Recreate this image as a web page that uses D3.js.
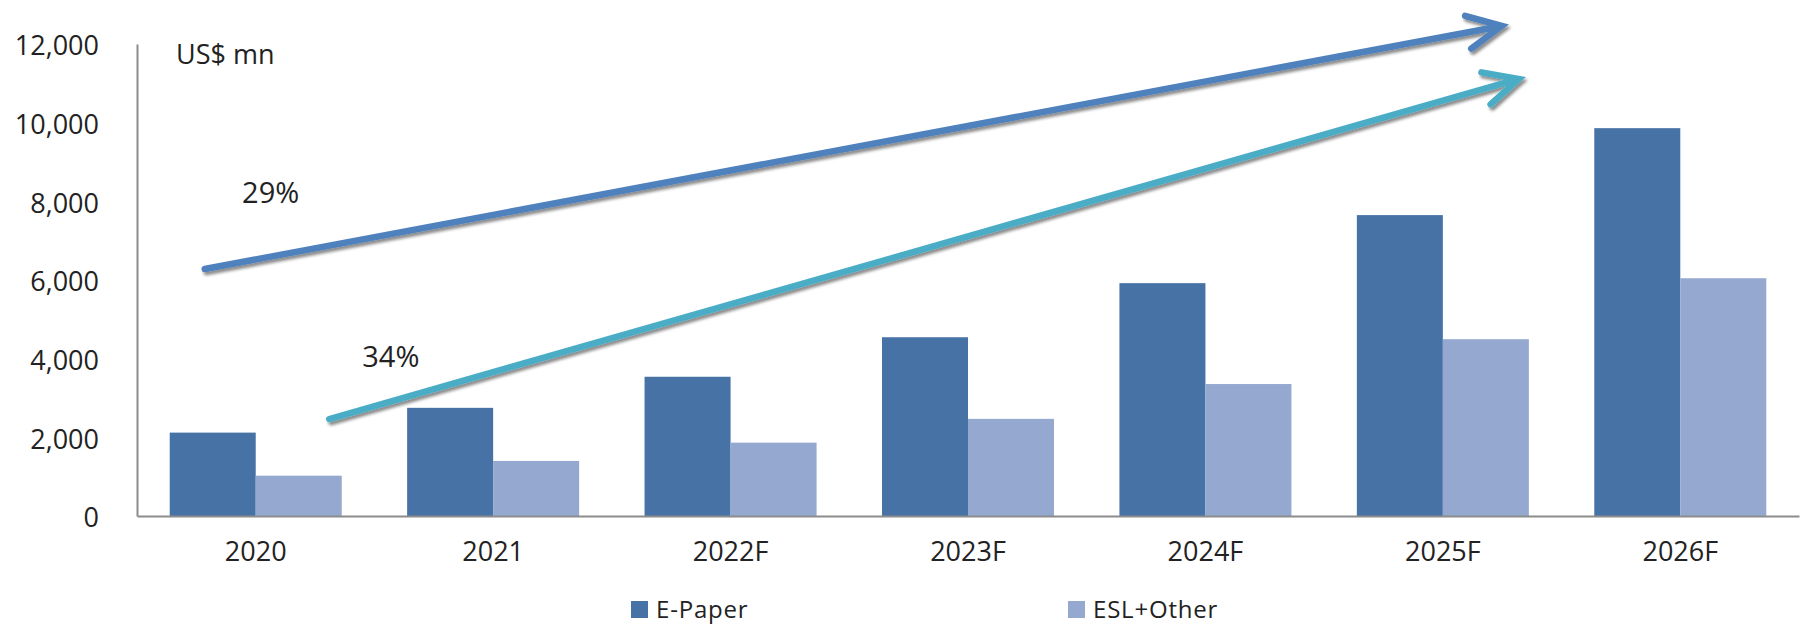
<!DOCTYPE html>
<html>
<head>
<meta charset="utf-8">
<script src="https://cdn.jsdelivr.net/npm/d3@7"></script>
<style>
  html, body { margin: 0; padding: 0; background: #fff; }
  svg { display: block; font-family: "Open Sans", "Noto Sans", sans-serif; }
</style>
</head>
<body>
<svg id="chart" width="1808" height="624"></svg>
<script>
// Market size by year, US$ mn
const categories = ["2020", "2021", "2022F", "2023F", "2024F", "2025F", "2026F"];
const ePaper     = [2120, 2750, 3540, 4545, 5920, 7650, 9860];
const eslOther   = [1025, 1400, 1865, 2470, 3355, 4495, 6045];
const seriesNames = ["E-Paper", "ESL+Other"];
const yTicks = [0, 2000, 4000, 6000, 8000, 10000, 12000];

// CAGR arrows, positioned in (category index, value) space
const arrowLabels = ["29%", "34%"];
const arrowStart  = [[-0.215, 6280], [0.31, 2466]];
const arrowEnd    = [[5.248, 12459], [5.32, 11111]];
const labelPos    = [[0.063, 8212], [0.569, 4043]];

const colors = { "E-Paper": "#4672a6", "ESL+Other": "#95a9d0" };
const arrowColors = ["#4f81bd", "#4bacc6"];
const textColor = "#222";
const axisColor = "#8c8c8c";

const svg = d3.select("#chart");
const plot = { left: 137, right: 1799, top: 44, bottom: 516 };

// scales
const x = d3.scaleBand()
  .domain(categories)
  .range([plot.left, plot.right])
  .paddingInner(0.2755)
  .paddingOuter(0.13775);
const xs = d3.scaleBand().domain(seriesNames).range([0, x.bandwidth()]);
const y = d3.scaleLinear().domain([0, 12000]).range([plot.bottom, plot.top]);
// continuous index scale for annotations (category centres)
const xi = d3.scaleLinear()
  .domain([0, 1])
  .range([x(categories[0]) + x.bandwidth() / 2, x(categories[1]) + x.bandwidth() / 2]);

const defs = svg.append("defs");
const shadow = defs.append("filter").attr("id", "shadow")
  .attr("x", "-5%").attr("y", "-50%").attr("width", "110%").attr("height", "200%");
shadow.append("feDropShadow")
  .attr("dx", 2).attr("dy", 3).attr("stdDeviation", 1.6)
  .attr("flood-color", "#000").attr("flood-opacity", 0.45);

// bars
const rows = categories.map((c, i) => ({ cat: c, "E-Paper": ePaper[i], "ESL+Other": eslOther[i] }));
const groups = svg.append("g").selectAll("g")
  .data(rows).join("g")
  .attr("transform", d => `translate(${x(d.cat)},0)`);
groups.selectAll("rect")
  .data(d => seriesNames.map(k => ({ key: k, value: d[k] })))
  .join("rect")
  .attr("x", d => xs(d.key))
  .attr("width", xs.bandwidth())
  .attr("y", d => y(d.value))
  .attr("height", d => y(0) - y(d.value))
  .attr("fill", d => colors[d.key]);

// y axis
const yAxis = svg.append("g")
  .attr("transform", `translate(${plot.left},0)`)
  .call(d3.axisLeft(y).tickValues(yTicks).tickSize(0).tickPadding(38)
    .tickFormat(d3.format(",")));
yAxis.select(".domain").attr("stroke", axisColor).attr("stroke-width", 2);
yAxis.selectAll("text")
  .attr("fill", textColor)
  .attr("font-size", 27)
  .attr("font-family", "'Open Sans', sans-serif")
  .attr("dy", "0.4em");

// x axis
const xAxis = svg.append("g")
  .attr("transform", `translate(0,${plot.bottom})`)
  .call(d3.axisBottom(x).tickSize(0).tickPadding(26));
xAxis.select(".domain").attr("stroke", axisColor).attr("stroke-width", 2);
xAxis.selectAll("text")
  .attr("fill", textColor)
  .attr("font-size", 27)
  .attr("font-family", "'Open Sans', sans-serif");

// unit label
svg.append("text")
  .attr("x", plot.left + 39)
  .attr("y", y(12000) + 11)
  .attr("dy", "0.35em")
  .attr("font-size", 27)
  .attr("fill", textColor)
  .text("US$ mn");

// growth arrows
const arrowG = svg.append("g").attr("filter", "url(#shadow)");
arrowStart.forEach((s, i) => {
  const x0 = xi(s[0]), y0 = y(s[1]);
  const x1 = xi(arrowEnd[i][0]), y1 = y(arrowEnd[i][1]);
  const ang = Math.atan2(y1 - y0, x1 - x0);
  const headLen = 38, spread = 26 * Math.PI / 180;
  const a1 = [x1 - headLen * Math.cos(ang - spread), y1 - headLen * Math.sin(ang - spread)];
  const a2 = [x1 - headLen * Math.cos(ang + spread), y1 - headLen * Math.sin(ang + spread)];
  const p = d3.path();
  p.moveTo(x0, y0); p.lineTo(x1, y1);
  p.moveTo(a1[0], a1[1]); p.lineTo(x1, y1); p.lineTo(a2[0], a2[1]);
  arrowG.append("path")
    .attr("d", p.toString())
    .attr("fill", "none")
    .attr("stroke", arrowColors[i])
    .attr("stroke-width", 6.5)
    .attr("stroke-linecap", "round")
    .attr("stroke-linejoin", "miter");
});

// CAGR labels
svg.append("g").selectAll("text")
  .data(arrowLabels).join("text")
  .attr("x", (d, i) => xi(labelPos[i][0]))
  .attr("y", (d, i) => y(labelPos[i][1]))
  .attr("dy", "0.36em")
  .attr("text-anchor", "middle")
  .attr("font-size", 29)
  .attr("fill", textColor)
  .text(d => d);

// legend
const legendX = [631, 1068];
const legend = svg.append("g").selectAll("g")
  .data(seriesNames).join("g")
  .attr("transform", (d, i) => `translate(${legendX[i]},601)`);
legend.append("rect")
  .attr("width", 17).attr("height", 17)
  .attr("fill", d => colors[d]);
legend.append("text")
  .attr("x", 25).attr("y", 8)
  .attr("dy", "0.36em")
  .attr("font-size", 24)
  .attr("letter-spacing", 0.8)
  .attr("fill", textColor)
  .text(d => d);
</script>
</body>
</html>
